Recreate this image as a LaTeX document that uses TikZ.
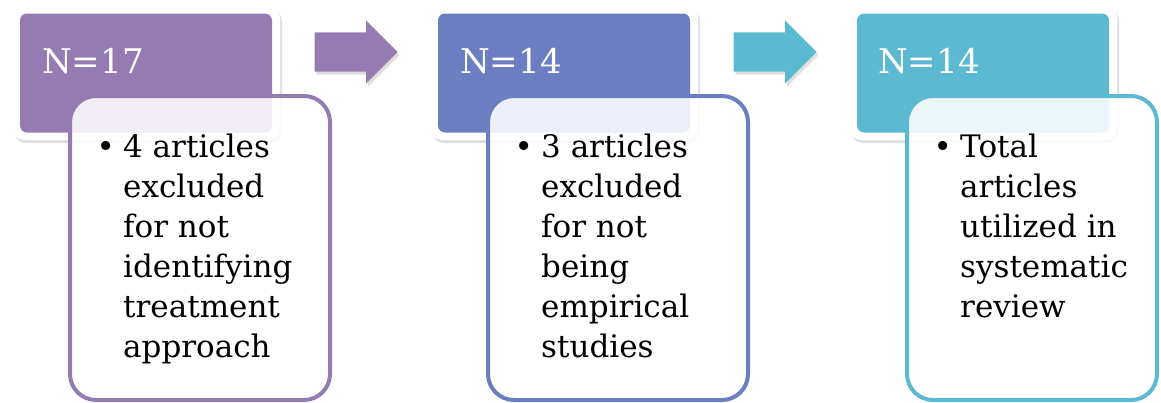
\documentclass[tikz,border=0pt]{standalone}
\usepackage{fontspec}
\setmainfont{DejaVu Serif}
\usepackage{tikz}
\usetikzlibrary{shadows}
\usetikzlibrary{shapes.arrows}
\usetikzlibrary{positioning}

\definecolor{stepPurple}{RGB}{148,124,179}
\definecolor{stepBlue}{RGB}{106,126,193}
\definecolor{stepTeal}{RGB}{91,185,209}

\begin{document}
\begin{tikzpicture}[x=1pt, y=-1pt,
    frame/.style={rectangle, rounded corners=12pt, fill=white, inner sep=0pt,
        minimum width=268pt, minimum height=134pt,
        drop shadow={opacity=0.25, shadow xshift=2pt, shadow yshift=-3pt}},
    header/.style={rectangle, rounded corners=7pt, fill=#1, inner sep=0pt,
        minimum width=252pt, minimum height=119pt},
    headtext/.style={anchor=base west, inner sep=0pt, text=white,
        font=\fontsize{34}{40}\selectfont},
    stepArrow/.style={single arrow, fill=#1, inner sep=0pt, anchor=tip,
        text height=20pt, text depth=19pt, minimum height=83pt,
        single arrow head extend=12pt,
        drop shadow={opacity=0.25, shadow xshift=2pt, shadow yshift=-3pt}},
    body/.style={rectangle, rounded corners=26pt, draw=#1, line width=4pt,
        fill=white, fill opacity=0.88, inner sep=0pt,
        minimum width=260pt, minimum height=304pt},
    bodytext/.style={anchor=base west, inner sep=0pt,
        font=\fontsize{31}{40}\selectfont},
    bullet/.style={anchor=base east, inner sep=0pt,
        font=\fontsize{31}{40}\selectfont}
    ]
    \useasboundingbox (0,0) rectangle (1161,402);

    % headers
    \node[frame] (frame1) at (146,73) {};
    \node[header=stepPurple] (head1) at (146,73) {};
    \node[frame] (frame2) at (564,73) {};
    \node[header=stepBlue] (head2) at (564,73) {};
    \node[frame] (frame3) at (983,73) {};
    \node[header=stepTeal] (head3) at (983,73) {};

    \node[headtext] (lbl1) at (42,73) {N=17};
    \node[headtext] (lbl2) at (460,73) {N=14};
    \node[headtext] (lbl3) at (878,73) {N=14};

    % arrows between the steps
    \node[stepArrow=stepPurple] (arr1) at (398,52) {};
    \node[stepArrow=stepTeal] (arr2) at (817,52) {};

    % lower boxes
    \node[body=stepPurple] (body1) at (200,248) {};
    \node[body=stepBlue] (body2) at (618,248) {};
    \node[body=stepTeal, minimum width=250pt] (body3) at (1032,248) {};

    \node[bodytext] (txt1) at (123,157) {\begin{tabular}[t]{@{}l@{}}
        4 articles\\ excluded\\ for not\\ identifying\\ treatment\\ approach
        \end{tabular}};
    \node[bodytext] (txt2) at (541,157) {\begin{tabular}[t]{@{}l@{}}
        3 articles\\ excluded\\ for not\\ being\\ empirical\\ studies
        \end{tabular}};
    \node[bodytext] (txt3) at (960,157) {\begin{tabular}[t]{@{}l@{}}
        Total\\ articles\\ utilized in\\ systematic\\ review
        \end{tabular}};

    \node[bullet] (bul1) at ([xshift=-8pt]txt1.base west) {\textbullet};
    \node[bullet] (bul2) at ([xshift=-8pt]txt2.base west) {\textbullet};
    \node[bullet] (bul3) at ([xshift=-8pt]txt3.base west) {\textbullet};
\end{tikzpicture}
\end{document}
